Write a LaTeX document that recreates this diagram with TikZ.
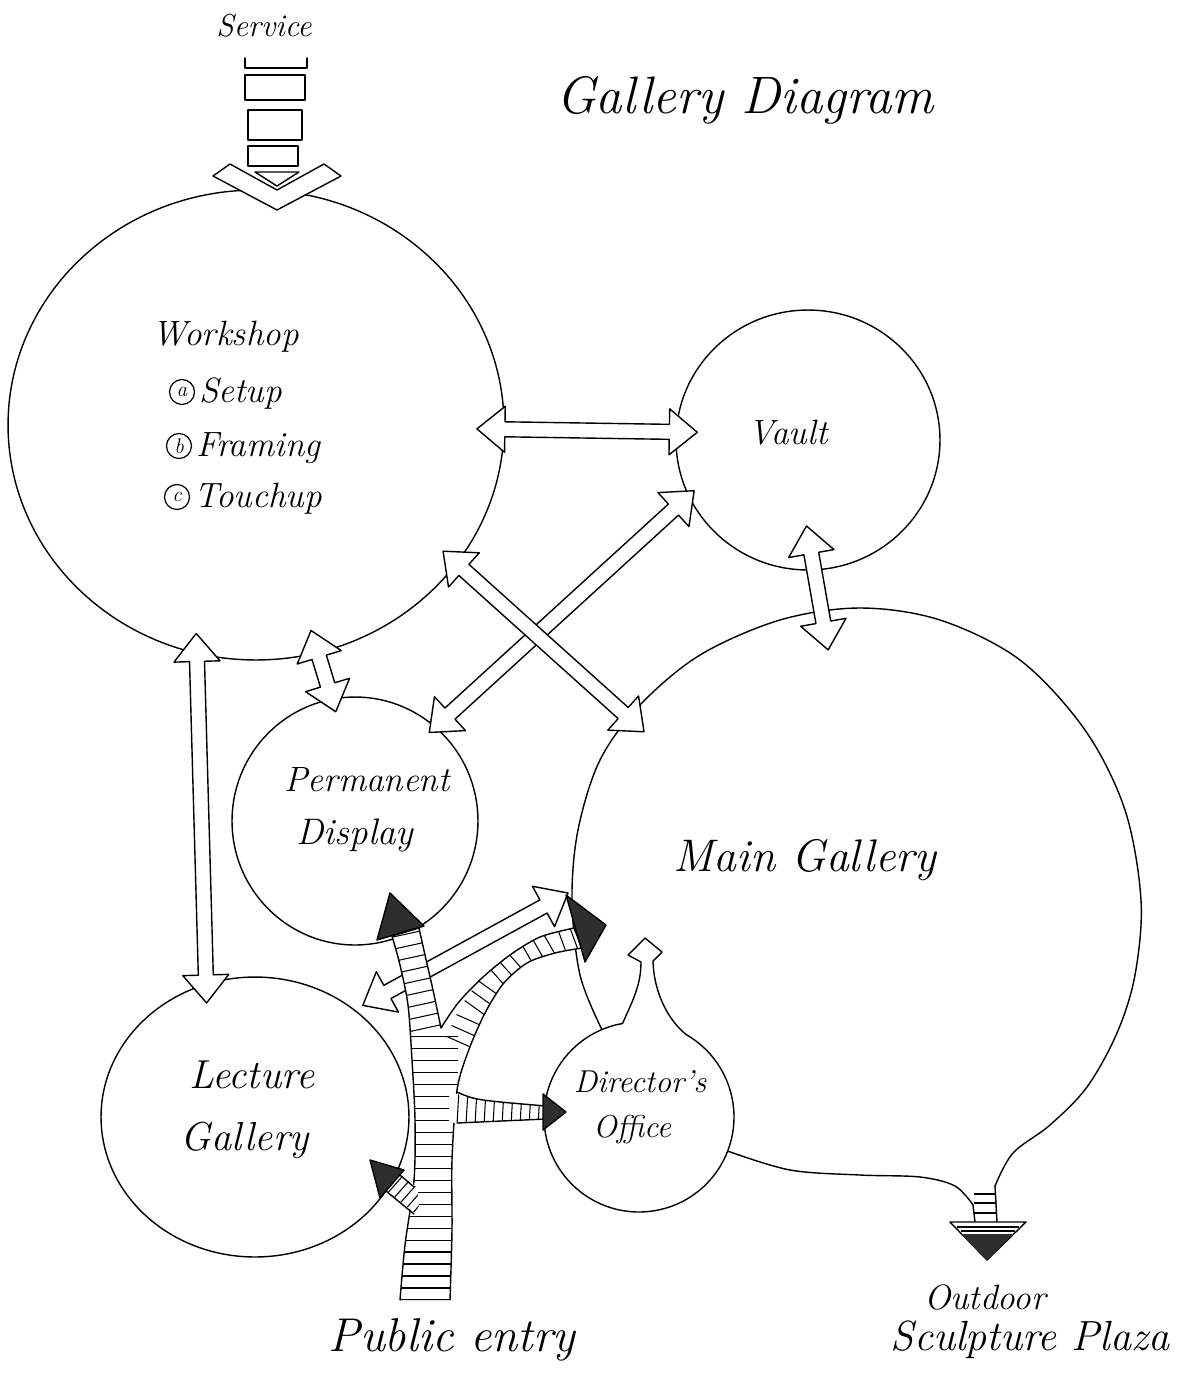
\documentclass[tikz,border=0pt]{standalone}
\usetikzlibrary{calc,shapes.geometric,decorations.markings}

% sizes of the hollow two-way arrows
\newcommand\headlen{0.56cm}
\newcommand\headwid{0.46cm}
\newcommand\shaftwid{0.15cm}

% hollow arrow with a head at each end, tips at #1 and #2
\newcommand\twoway[2]{%
  \draw[hollow] (#1)
    -- ($(#1)!\headlen!(#2)!\headwid!90:(#2)$)
    -- ($(#1)!\headlen!(#2)!\shaftwid!90:(#2)$)
    -- ($(#2)!\headlen!(#1)!\shaftwid!-90:(#1)$)
    -- ($(#2)!\headlen!(#1)!\headwid!-90:(#1)$)
    -- (#2)
    -- ($(#2)!\headlen!(#1)!\headwid!90:(#1)$)
    -- ($(#2)!\headlen!(#1)!\shaftwid!90:(#1)$)
    -- ($(#1)!\headlen!(#2)!\shaftwid!-90:(#2)$)
    -- ($(#1)!\headlen!(#2)!\headwid!-90:(#2)$)
    -- cycle;}

% outline of the public entry trunk and its two upper branches
\newcommand\treeedges{%
  plot[smooth, tension=0.5] coordinates {(400,1300) (405,1245) (414,1180) (415,1120) (412,1060) (408,1005) (400,965) (392,936)}
  -- plot[smooth, tension=0.5] coordinates {(419,928) (425,955) (433,990) (441,1028)}
  -- plot[smooth, tension=0.5] coordinates {(441,1028) (458,1003) (482,978) (510,955) (540,937) (574,928)}
  -- plot[smooth, tension=0.5] coordinates {(582,948) (555,953) (527,963) (503,984) (484,1015) (468,1052) (457,1090) (452,1160) (452,1230) (450,1300)}}

\tikzset{
  pen/.style={line width=0.8pt, line join=round, line cap=round},
  room/.style={ellipse, draw, pen, inner sep=0pt, outer sep=0pt},
  ghost/.style={circle, draw=none, inner sep=0pt, outer sep=0pt},
  hollow/.style={pen, draw=black, fill=white},
  darkhead/.style={pen, draw=black, fill=black!82},
  hatchline/.style={line width=0.6pt},
  hatch/.style 2 args={decorate, decoration={markings,
      mark=between positions 0 and 1 step #1 with {\draw[hatchline] (0,-#2) -- (0,#2);}}},
  hand/.style={font=\fontsize{#1}{#1}\selectfont\itshape, inner sep=0pt},
  listmark/.style={circle, draw, line width=0.7pt, minimum size=0.5cm, inner sep=0pt,
      font=\fontsize{12}{12}\selectfont\itshape},
}

\begin{document}
\begin{tikzpicture}[x=0.02cm, y=-0.02cm]
\useasboundingbox (0,0) rectangle (1179,1374);
\fill[white] (0,0) rectangle (1179,1374);

% rooms
\node[room, minimum width=9.92cm, minimum height=9.4cm] (ws) at (256,425) {};
\node[room, minimum width=5.28cm, minimum height=5.2cm] (va) at (808,440) {};
\node[room, minimum width=4.92cm, minimum height=4.96cm] (pd) at (355,821) {};
\node[room, minimum width=6.16cm, minimum height=5.6cm] (lg) at (255,1117) {};
\node[ghost, minimum size=11.4cm] (mg) at (858,893) {};
\node[ghost, minimum size=3.8cm] (do) at (639,1117) {};

% main gallery balloon with its tail toward the plaza
\draw[pen] plot[smooth, tension=0.55] coordinates {(do.113) (580,975) (572,900) (578,830) (600,760) (640,705) (700,655) (780,620) (860,608) (940,620) (1020,660) (1085,730) (1125,810) (1141,900) (1135,975) (1117,1033) (1087,1087) (1050,1125) (1013,1153) (995,1186)};
\draw[pen] plot[smooth, tension=0.55] coordinates {(do.-21) (790,1170) (860,1175) (920,1177) (955,1186) (973,1205)};

% director's office with its pointed top opening into the gallery
\draw[pen] (do.100) arc[start angle=100, end angle=420, radius=1.9cm];
\draw[pen] (do.100) .. controls (633,1000) and (641,985) .. (641,962)
  -- (628,955) -- (645,938) -- (662,952) -- (653,961)
  .. controls (654,995) and (670,1022) .. (do.60);

% exit to the outdoor sculpture plaza
\coordinate (plz) at (987,1260);
\draw[pen] (973,1205) -- (975,1222);
\draw[pen] (995,1186) -- (997,1222);
\foreach \y in {1194,1203,1213} \draw[hatchline] (974,\y) -- (996,\y);
\draw[pen, fill=white] (950,1222) -- (1026,1222) -- (plz) -- cycle;
\foreach \y in {1227,1231} \draw[hatchline] ({952+(\y-1222)},\y) -- ({1024-(\y-1222)},\y);
\fill[black!82] (961,1234) -- (1013,1234) -- (plz) -- cycle;

% service entry into the workshop
\draw[pen] (245,58) -- (245,68) -- (307,68) -- (307,58);
\draw[pen] (245,75) rectangle (305,100);
\draw[pen] (248,110) rectangle (302,140);
\draw[pen] (248,146) rectangle (298,166);
\draw[hollow] (213,176) -- (277,210) -- (341,176) -- (324,164) -- (277,190) -- (230,164) -- cycle;
\draw[hollow] (255,172) -- (299,172) -- (277,186) -- cycle;

% two-way links between rooms
\coordinate (a1) at ($(ws.-1)!0.54cm!(ws.center)$);
\coordinate (a2) at ($(va.176)!0.42cm!(va.center)$);
\coordinate (b1) at ($(va.204)!0.14cm!(va.center)$);
\coordinate (b2) at ($(pd.50)!0.16cm!(pd.center)$);
\coordinate (c1) at ($(ws.-34)!0.36cm!(ws.center)$);
\coordinate (c2) at ($(mg.143)!0.34cm!(mg.center)$);
\coordinate (d1) at ($(ws.-75)!0.46cm!(ws.center)$);
\coordinate (d2) at ($(pd.100)!0.26cm!(pd.center)$);
\coordinate (e1) at ($(ws.-106)!0.38cm!(ws.center)$);
\coordinate (e2) at ($(lg.113)!0.36cm!(lg.center)$);
\coordinate (f1) at ($(va.-91)!0.88cm!(va.center)$);
\coordinate (f2) at ($(mg.97)!0.8cm!(mg.center)$);
\coordinate (g1) at ($(lg.46)!-0.18cm!(lg.center)$);
\coordinate (g2) at ($(mg.180)!-0.1cm!(mg.center)$);
\twoway{a1}{a2}
\twoway{b1}{b2}
\twoway{c1}{c2}
\twoway{d1}{d2}
\twoway{e1}{e2}
\twoway{f1}{f2}
\twoway{g1}{g2}

% public entry: hatched trunk and branches
\fill[white] \treeedges -- cycle;
\begin{scope}
  \clip \treeedges -- cycle;
  \path[hatch={0.24cm}{0.6cm}] (428,1300) -- (428,1035);
  \path[hatch={0.24cm}{0.36cm}] (426,1028) -- (405,932);
  \path[hatch={0.24cm}{0.42cm}] (466,1045) -- (478,1018) -- (498,990) -- (525,966) -- (560,946) -- (582,938);
\end{scope}
\draw[pen] \treeedges;

% branch to the director's office
\fill[white] (449,1092) -- (480,1100) -- (546,1106) -- (546,1119) -- (449,1123) -- cycle;
\begin{scope}
  \clip (449,1092) -- (480,1100) -- (546,1106) -- (546,1119) -- (449,1123) -- cycle;
  \path[hatch={0.18cm}{0.4cm}] (458,1107) -- (546,1112);
\end{scope}
\draw[pen] (457,1092) .. controls (475,1100) .. (546,1106);
\draw[pen] (457,1123) -- (546,1119);

% branch to the lecture gallery
\fill[white] (400,1175) -- (418,1188) -- (419,1216) -- (386,1191) -- cycle;
\begin{scope}
  \clip (400,1175) -- (418,1188) -- (419,1216) -- (386,1191) -- cycle;
  \path[hatch={0.16cm}{0.4cm}] (418,1207) -- (392,1184);
\end{scope}
\draw[pen] (400,1175) -- (414,1187);
\draw[pen] (386,1191) -- (414,1214);

% dark arrow heads of the public routes
\draw[darkhead] (377,940) -- (390,893) -- (424,926) -- cycle;
\draw[darkhead] (566,895) -- (606,925) -- (585,962) -- cycle;
\draw[darkhead] (404,1170) -- (370,1160) -- (380,1198) -- cycle;
\draw[darkhead] (543,1094) -- (566,1112) -- (543,1130) -- cycle;

% labels
\node[hand=18] (tsv) at (264,26) {Service};
\node[hand=30] (ttl) at (745,100) {Gallery Diagram};
\node[hand=20, anchor=base west] (tws) at (152,345) {Workshop};
\node[listmark] (m1) at (182,392) {a};
\node[listmark] (m2) at (179,446) {b};
\node[listmark] (m3) at (177,497) {c};
\node[hand=20, anchor=base west] (tw1) at (199,402) {Setup};
\node[hand=20, anchor=base west] (tw2) at (196,456) {Framing};
\node[hand=20, anchor=base west] (tw3) at (194,507) {Touchup};
\node[hand=20] (tva) at (788,433) {Vault};
\node[hand=20] (tpd1) at (367,780) {Permanent};
\node[hand=21] (tpd2) at (355,835) {Display};
\node[hand=26] (tmg) at (805,860) {Main Gallery};
\node[hand=23] (tlg1) at (252,1075) {Lecture};
\node[hand=23] (tlg2) at (245,1140) {Gallery};
\node[hand=18] (tdo1) at (640,1082) {Director's};
\node[hand=18] (tdo2) at (632,1130) {Office};
\node[hand=27] (tpe) at (452,1340) {Public entry};
\node[hand=20] (tod1) at (985,1297) {Outdoor};
\node[hand=24] (tod2) at (1030,1340) {Sculpture Plaza};
\end{tikzpicture}
\end{document}
